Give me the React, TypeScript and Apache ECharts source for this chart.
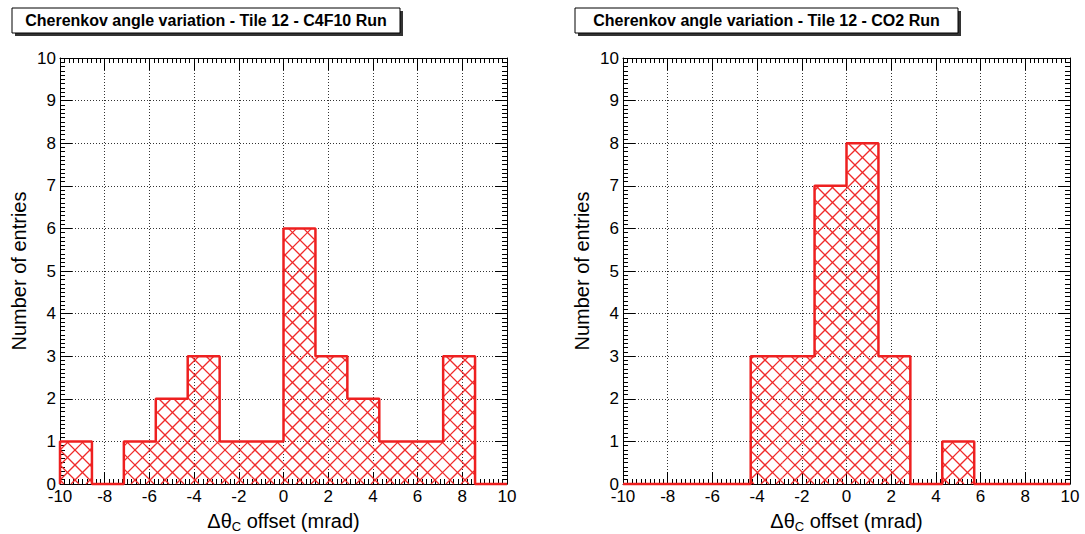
import React, { useEffect, useRef } from "react";
import * as echarts from "echarts";

// ---- data ----
const binEdges = [-10, -8.571, -7.143, -5.714, -4.286, -2.857, -1.429, 0, 1.429, 2.857, 4.286, 5.714, 7.143, 8.571, 10];
const countsC4F10 = [1, 0, 1, 2, 3, 1, 1, 6, 3, 2, 1, 1, 3, 0];
const countsCO2 = [0, 0, 0, 0, 3, 3, 7, 8, 3, 0, 1, 0, 0, 0];
const titles = ["Cherenkov angle variation - Tile 12 - C4F10 Run", "Cherenkov angle variation - Tile 12 - CO2 Run"];
const yAxisTitle = "Number of entries";
const xAxisTitle = "{a|Δθ}{s|C}{a| offset (mrad)}";

const FONT = "'Liberation Sans', Arial, Helvetica, sans-serif";
const RED = "#ee2020";
const HATCH = "#f02a2a";
const HATCH_STEP = 15;

function binItems(counts: number[]) {
  return counts.map((c, i) => [binEdges[i], binEdges[i + 1], c]);
}
function stepPoints(counts: number[]) {
  const pts: number[][] = [[binEdges[0], 0]];
  counts.forEach((c, i) => {
    pts.push([binEdges[i], c]);
    pts.push([binEdges[i + 1], c]);
  });
  pts.push([binEdges[binEdges.length - 1], 0]);
  return pts;
}

function hatchLines(xL: number, yT: number, xR: number, yB: number) {
  const out: any[] = [];
  const a = HATCH_STEP;
  const st = { stroke: HATCH, lineWidth: 1.3 };
  // family y = x + c
  const c1min = Math.floor((yT - xR) / a) * a;
  for (let c = c1min; c <= yB - xL + a; c += a) {
    const s = Math.max(xL, yT - c);
    const e = Math.min(xR, yB - c);
    if (e > s) out.push({ type: "line", shape: { x1: s, y1: s + c, x2: e, y2: e + c }, style: st });
  }
  // family y = -x + c
  const c2min = Math.floor((yT + xL) / a) * a;
  for (let c = c2min; c <= yB + xR + a; c += a) {
    const s = Math.max(xL, c - yB);
    const e = Math.min(xR, c - yT);
    if (e > s) out.push({ type: "line", shape: { x1: s, y1: c - s, x2: e, y2: c - e }, style: st });
  }
  return out;
}

const grids = [
  { left: 60, top: 58, width: 447, height: 426, outerBoundsMode: "none", containLabel: false },
  { left: 623, top: 58, width: 447, height: 426, outerBoundsMode: "none", containLabel: false },
];
const boxes = [
  { x: 12, y: 8, w: 388, h: 25 },
  { x: 575, y: 8, w: 383, h: 25 },
];

function xAx(gi: number, pos: string, main: boolean) {
  return {
    type: "value", gridIndex: gi, position: pos, min: -10, max: 10, interval: 2,
    name: main ? xAxisTitle : "", nameLocation: "middle", nameGap: 25,
    nameTextStyle: {
      color: "#000", fontFamily: FONT, fontSize: 20,
      rich: {
        a: { fontFamily: FONT, fontSize: 20, color: "#000", lineHeight: 24 },
        s: { fontFamily: FONT, fontSize: 13, color: "#000", lineHeight: 24, verticalAlign: "bottom", padding: [10, 0, 0, 0] },
      },
    },
    axisLine: { show: true, onZero: false, lineStyle: { color: "#000", width: 1 } },
    axisTick: { show: true, inside: true, length: 12, lineStyle: { color: "#000", width: 1 } },
    minorTick: { show: true, splitNumber: 10, length: 5, lineStyle: { color: "#000", width: 1 } },
    axisLabel: { show: main, color: "#000", fontFamily: FONT, fontSize: 17, margin: 4, showMinLabel: true, showMaxLabel: true },
    splitLine: { show: main, lineStyle: { color: "#333", width: 1, type: [1, 2] } },
  };
}
function yAx(gi: number, pos: string, main: boolean) {
  return {
    type: "value", gridIndex: gi, position: pos, min: 0, max: 10, interval: 1,
    name: main ? yAxisTitle : "", nameLocation: "middle", nameGap: 31,
    nameTextStyle: { color: "#000", fontFamily: FONT, fontSize: 20 },
    axisLine: { show: true, onZero: false, lineStyle: { color: "#000", width: 1 } },
    axisTick: { show: true, inside: true, length: 12, lineStyle: { color: "#000", width: 1 } },
    minorTick: { show: true, splitNumber: 10, length: 5, lineStyle: { color: "#000", width: 1 } },
    axisLabel: { show: main, color: "#000", fontFamily: FONT, fontSize: 17, margin: 4, showMinLabel: true, showMaxLabel: true },
    splitLine: { show: main, lineStyle: { color: "#333", width: 1, type: [1, 2] } },
  };
}

export default function App() {
  const ref = useRef<HTMLDivElement>(null);
  useEffect(() => {
    if (!ref.current) return;
    const chart = echarts.init(ref.current, null, { renderer: "svg" });
    const datasets = [countsC4F10, countsCO2];
    const xAxis: any[] = [];
    const yAxis: any[] = [];
    const series: any[] = [];
    const graphic: any[] = [];
    datasets.forEach((counts, gi) => {
      const xb = xAxis.length;
      xAxis.push(xAx(gi, "bottom", true), xAx(gi, "top", false));
      const yb = yAxis.length;
      yAxis.push(yAx(gi, "left", true), yAx(gi, "right", false));
      series.push({
        type: "custom", xAxisIndex: xb, yAxisIndex: yb, z: 2,
        data: binItems(counts),
        renderItem: (params: any, api: any) => {
          const x0 = api.value(0), x1 = api.value(1), v = api.value(2);
          if (!(v > 0)) return null;
          const p0 = api.coord([x0, v]);
          const p1 = api.coord([x1, 0]);
          return { type: "group", children: hatchLines(p0[0], p0[1], p1[0], p1[1]) };
        },
      });
      series.push({
        type: "line", xAxisIndex: xb, yAxisIndex: yb, z: 3, clip: false,
        data: stepPoints(counts), symbol: "none", showSymbol: false,
        lineStyle: { color: RED, width: 2.5 },
      });
      const b = boxes[gi];
      graphic.push(
        { type: "rect", shape: { x: b.x + 3, y: b.y + 3, width: b.w, height: b.h }, style: { fill: "#333" }, z: 10 },
        { type: "rect", shape: { x: b.x, y: b.y, width: b.w, height: b.h }, style: { fill: "#fff", stroke: "#000", lineWidth: 1 }, z: 11 },
        {
          type: "text", x: b.x + b.w / 2, y: b.y + b.h / 2, z: 12,
          style: { text: titles[gi], fill: "#000", font: `bold 16px ${FONT}`, textAlign: "center", textVerticalAlign: "middle" },
        }
      );
    });
    chart.setOption({
      animation: false,
      backgroundColor: "#fff",
      grid: grids,
      xAxis, yAxis, series, graphic,
    });
    return () => chart.dispose();
  }, []);
  return <div ref={ref} style={{ position: "absolute", left: 0, top: 0, width: 1085, height: 534 }} />;
}
